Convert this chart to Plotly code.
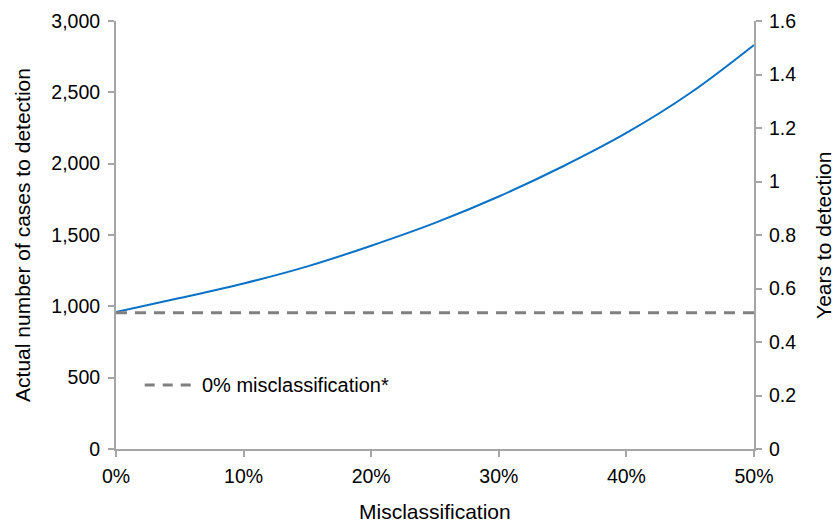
import plotly.graph_objects as go

# Misclassification rate (fraction) and the resulting cases needed to detect
misclassification = [0.00, 0.05, 0.10, 0.15, 0.20, 0.25, 0.30, 0.35, 0.40, 0.45, 0.50]
cases_to_detection = [960, 1058, 1160, 1280, 1425, 1585, 1770, 1980, 2215, 2495, 2832]

# Reference level with no misclassification
baseline_x = [0.0, 0.5]
baseline_cases = [955, 955]
baseline_label = "0% misclassification*"

FONT = "Liberation Sans, Arial, Helvetica, sans-serif"
AXIS_GREY = "#a6a6a6"
DASH_GREY = "#808080"
TICK_SIZE = 19.5
TITLE_SIZE = 21

fig = go.Figure()

fig.add_trace(go.Scatter(
    x=misclassification, y=cases_to_detection,
    mode="lines", line=dict(color="#0a72c6", width=2, shape="spline"),
    showlegend=False, hoverinfo="skip",
))

fig.add_trace(go.Scatter(
    x=baseline_x, y=baseline_cases,
    mode="lines", line=dict(color=DASH_GREY, width=3, dash="11px,8px"),
    name=baseline_label, showlegend=False,
))

# empty trace so the secondary (years) axis is rendered
fig.add_trace(go.Scatter(x=[], y=[], yaxis="y2", showlegend=False, hoverinfo="skip"))

# in-plot key for the dashed baseline
fig.add_shape(type="line", xref="x", yref="y", x0=0.0225, x1=0.0625, y0=449, y1=449,
              line=dict(color=DASH_GREY, width=3, dash="10px,8px"))
fig.add_annotation(x=0.066, y=449, xref="x", yref="y", text=baseline_label,
                   showarrow=False, xanchor="left", yanchor="middle",
                   font=dict(size=20))

# x-axis title placed below the tick labels
fig.add_annotation(x=0.5, y=-0.146, xref="paper", yref="paper", text="Misclassification",
                   showarrow=False, xanchor="center", yanchor="middle",
                   font=dict(size=TITLE_SIZE))

# right-hand axis title
fig.add_annotation(x=1.108, y=0.5, xref="paper", yref="paper", text="Years to detection",
                   showarrow=False, textangle=-90, xanchor="center", yanchor="middle",
                   font=dict(size=TITLE_SIZE))

axis_common = dict(
    showgrid=False, zeroline=False, automargin=False,
    showline=True, linecolor=AXIS_GREY, linewidth=2,
    ticks="outside", ticklen=6, tickcolor=AXIS_GREY, tickwidth=1.5,
    tickfont=dict(size=TICK_SIZE),
)

fig.update_layout(
    width=839, height=522,
    margin=dict(l=116, r=85, t=21, b=73),
    paper_bgcolor="white", plot_bgcolor="white",
    font=dict(family=FONT, size=TICK_SIZE, color="#000000"),
    xaxis=dict(
        range=[0, 0.5], tickvals=[0, 0.1, 0.2, 0.3, 0.4, 0.5],
        tickformat=".0%", ticklabelstandoff=3,
        **axis_common,
    ),
    yaxis=dict(
        range=[0, 3000], dtick=500, tickformat=",", ticklabelstandoff=4,
        title=dict(text="Actual number of cases to detection", font=dict(size=TITLE_SIZE)),
        **axis_common,
    ),
    yaxis2=dict(
        range=[0, 1.6], dtick=0.2, overlaying="y", side="right", anchor="x",
        ticklabelstandoff=3,
        **axis_common,
    ),
)

fig.write_html("out.html")
